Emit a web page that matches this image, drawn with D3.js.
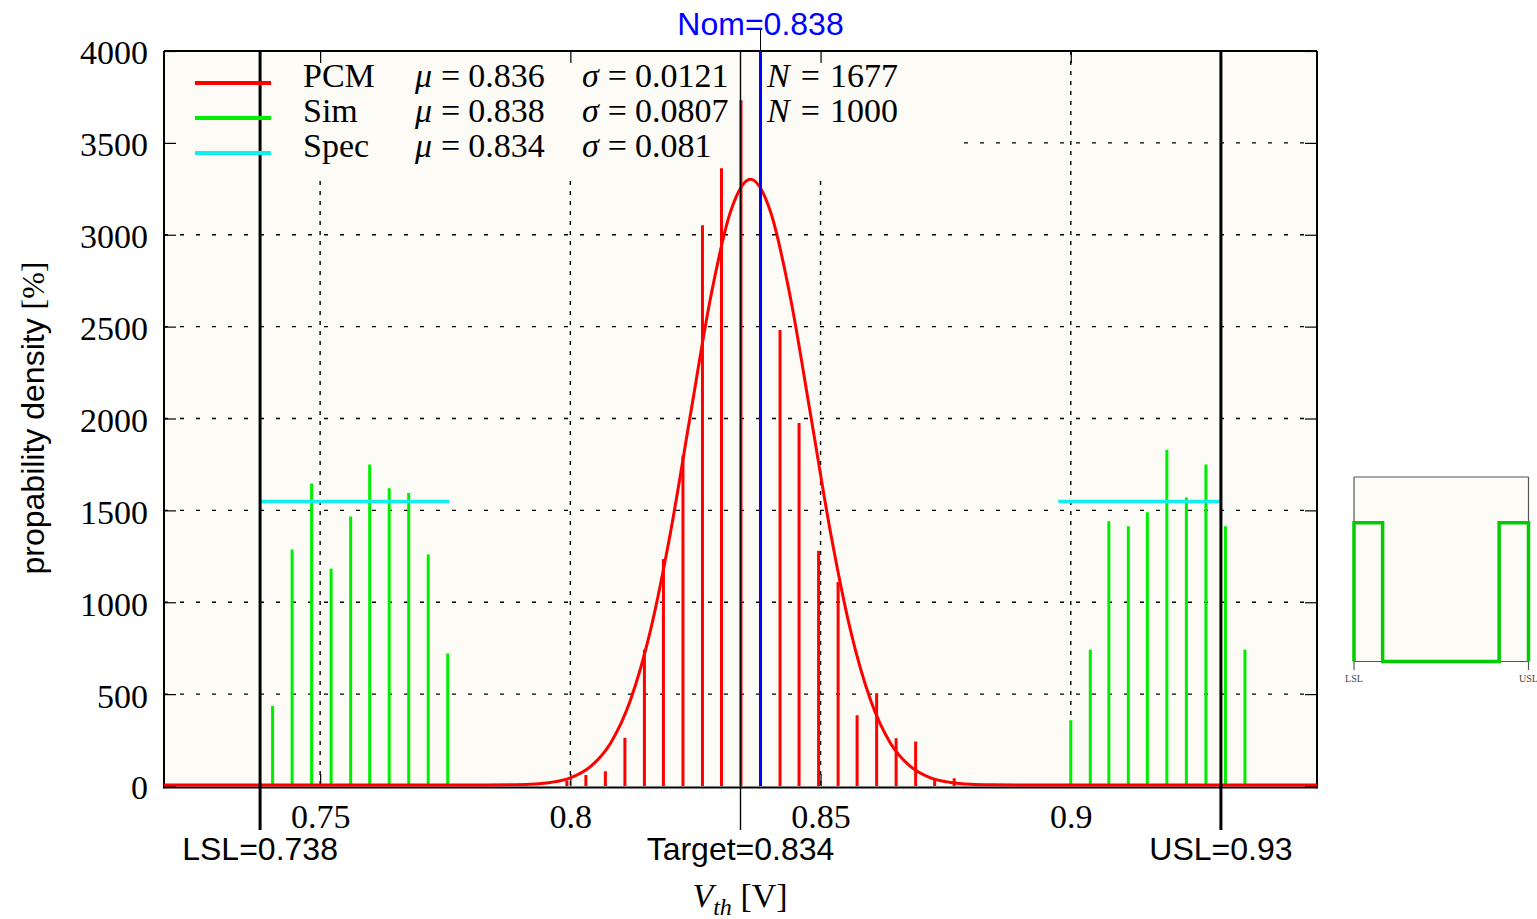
<!DOCTYPE html>
<html>
<head>
<meta charset="utf-8">
<script src="https://cdn.jsdelivr.net/npm/d3@7"></script>
<style>
  body { margin: 0; background: #fff; }
  svg { display: block; }
</style>
</head>
<body>
<div id="chart"></div>
<script>
// PCM histogram (red): bin centres [V] and density [%]
var pcmBins = [0.7876, 0.7993, 0.8031, 0.8070, 0.8109, 0.8148, 0.8186, 0.8225, 0.8264, 0.8302,
               0.8341, 0.8380, 0.8419, 0.8457, 0.8496, 0.8535, 0.8573, 0.8612, 0.8651, 0.8690,
               0.8728, 0.8767];
var pcmDensity = [8, 30, 60, 80, 262, 742, 1235, 1797, 3052, 3362,
                  3732, 3142, 2482, 1975, 1280, 1110, 385, 505, 260, 242,
                  42, 42];

// Sim histogram (green)
var simBins = [0.7405, 0.7444, 0.7483, 0.7522, 0.7561, 0.7599, 0.7638, 0.7677, 0.7716, 0.7755,
               0.9000, 0.9039, 0.9076, 0.9115, 0.9153, 0.9192, 0.9231, 0.9270, 0.9309, 0.9348];
var simDensity = [436, 1287, 1646, 1183, 1467, 1750, 1621, 1595, 1260, 721,
                  358, 742, 1441, 1414, 1490, 1828, 1570, 1750, 1414, 742];

// fitted PCM curve
var fitV = [0.7188, 0.760, 0.780, 0.788, 0.792, 0.796, 0.800, 0.804, 0.808, 0.812, 0.816,
            0.820, 0.824, 0.828, 0.832, 0.836, 0.840, 0.844, 0.848, 0.852, 0.856,
            0.860, 0.864, 0.868, 0.872, 0.876, 0.880, 0.884, 0.892, 0.910, 0.9492];
var fitDensity = [0, 0, 0, 1, 4, 14, 39, 100, 226, 461, 840,
                  1373, 2016, 2649, 3120, 3297, 3120, 2649, 2016, 1373, 840,
                  461, 226, 100, 39, 14, 4, 1, 0, 0, 0];

// Spec (cyan) levels
var specLevel = 1548;
var specSegments = [[0.738, 0.7758], [0.8975, 0.93]];

var limitValues = [0.738, 0.834, 0.93];
var limitLabels = ['LSL=0.738', 'Target=0.834', 'USL=0.93'];
var nomValue = 0.838;
var nomLabel = 'Nom=0.838';

var xTickValues = [0.75, 0.8, 0.85, 0.9];
var xTickLabels = ['0.75', '0.8', '0.85', '0.9'];
var yTickValues = [0, 500, 1000, 1500, 2000, 2500, 3000, 3500, 4000];
var yTickLabels = ['0', '500', '1000', '1500', '2000', '2500', '3000', '3500', '4000'];

var legendNames = ['PCM', 'Sim', 'Spec'];
var legendMu = ['0.836', '0.838', '0.834'];
var legendSigma = ['0.0121', '0.0807', '0.081'];
var legendN = ['1677', '1000', ''];
var legendColors = ['#ff0000', '#00ee00', '#11eeee'];

// small spec sketch on the right
var insetV = [0.738, 0.738, 0.7695, 0.7695, 0.8977, 0.8977, 0.93, 0.93];
var insetDensity = [0, 1548, 1548, 0, 0, 1548, 1548, 0];

var serif = "'Liberation Serif', 'DejaVu Serif', serif",
    sans = "'Liberation Sans', 'DejaVu Sans', sans-serif",
    cream = '#fcfbf5';

var W = 1537, H = 919;
var plot = {left: 164, top: 51, right: 1317, bottom: 786};

var svg = d3.select('#chart').append('svg')
      .attr('width', W)
      .attr('height', H)
      .style('background', '#fff');

var x = d3.scaleLinear().domain([0.7188, 0.9492]).range([plot.left, plot.right]);
var y = d3.scaleLinear().domain([0, 4000]).range([plot.bottom, plot.top]);

// plot background
svg.append('rect')
  .attr('x', plot.left).attr('y', plot.top)
  .attr('width', plot.right - plot.left).attr('height', plot.bottom - plot.top)
  .attr('fill', cream);

// grid
svg.append('g').selectAll('line')
  .data(yTickValues.filter(v => v > 0 && v < 4000))
  .enter().append('line')
  .attr('x1', plot.left).attr('x2', plot.right)
  .attr('y1', d => y(d)).attr('y2', d => y(d))
  .attr('stroke', '#000').attr('stroke-width', 1.3)
  .attr('stroke-dasharray', '4,12');

svg.append('g').selectAll('line')
  .data(xTickValues)
  .enter().append('line')
  .attr('x1', d => x(d)).attr('x2', d => x(d))
  .attr('y1', plot.top).attr('y2', plot.bottom)
  .attr('stroke', '#000').attr('stroke-width', 1.4)
  .attr('stroke-dasharray', '4,6');

// legend box hides the grid behind it
svg.append('rect')
  .attr('x', plot.left).attr('y', plot.top)
  .attr('width', 958 - plot.left).attr('height', 178 - plot.top)
  .attr('fill', cream);

// axes with inward ticks
var yAxis = d3.axisLeft(y).tickValues(yTickValues).tickSize(-12).tickPadding(16)
      .tickFormat((d, i) => yTickLabels[i]);
var gy = svg.append('g').attr('transform', `translate(${plot.left},0)`).call(yAxis);
gy.select('.domain').remove();
gy.selectAll('text').style('font-family', serif).style('font-size', '34px')
  .attr('dy', '0.38em');

var gyr = svg.append('g').attr('transform', `translate(${plot.right},0)`)
      .call(d3.axisRight(y).tickValues(yTickValues).tickSize(-12).tickFormat(''));
gyr.select('.domain').remove();

var xAxis = d3.axisBottom(x).tickValues(xTickValues).tickSize(-12).tickPadding(18)
      .tickFormat((d, i) => xTickLabels[i]);
var gx = svg.append('g').attr('transform', `translate(0,${plot.bottom})`).call(xAxis);
gx.select('.domain').remove();
gx.selectAll('text').style('font-family', serif).style('font-size', '34px');

var gxt = svg.append('g').attr('transform', `translate(0,${plot.top})`)
      .call(d3.axisTop(x).tickValues(xTickValues).tickSize(-12).tickFormat(''));
gxt.select('.domain').remove();
svg.selectAll('.tick line').attr('stroke-width', 1.2);

// frame
var frame = svg.append('g').attr('stroke', '#000').attr('stroke-width', 2);
frame.append('line').attr('x1', plot.left).attr('x2', plot.right).attr('y1', plot.top).attr('y2', plot.top);
frame.append('line').attr('x1', plot.left).attr('x2', plot.right).attr('y1', plot.bottom + 1.5).attr('y2', plot.bottom + 1.5);
frame.append('line').attr('x1', plot.left).attr('x2', plot.left).attr('y1', plot.top).attr('y2', plot.bottom + 2.5);
frame.append('line').attr('x1', plot.right).attr('x2', plot.right).attr('y1', plot.top).attr('y2', plot.bottom + 2.5);

// Sim bars
svg.append('g').selectAll('line')
  .data(simBins)
  .enter().append('line')
  .attr('x1', d => x(d)).attr('x2', d => x(d))
  .attr('y1', y(0)).attr('y2', (d, i) => y(simDensity[i]))
  .attr('stroke', legendColors[1]).attr('stroke-width', 3);

// PCM bars
svg.append('g').selectAll('line')
  .data(pcmBins)
  .enter().append('line')
  .attr('x1', d => x(d)).attr('x2', d => x(d))
  .attr('y1', y(0)).attr('y2', (d, i) => y(pcmDensity[i]))
  .attr('stroke', legendColors[0]).attr('stroke-width', 3);

// Spec levels
svg.append('g').selectAll('line')
  .data(specSegments)
  .enter().append('line')
  .attr('x1', d => x(d[0])).attr('x2', d => x(d[1]))
  .attr('y1', y(specLevel)).attr('y2', y(specLevel))
  .attr('stroke', legendColors[2]).attr('stroke-width', 3.5);

// fitted curve
var line = d3.line()
      .curve(d3.curveMonotoneX)
      .x(d => x(d))
      .y((d, i) => y(fitDensity[i]) - 1);

svg.append('path')
  .datum(fitV)
  .attr('fill', 'none')
  .attr('stroke', '#ff0000')
  .attr('stroke-width', 3)
  .attr('d', line);

// LSL / Target / USL
svg.append('g').selectAll('line')
  .data(limitValues)
  .enter().append('line')
  .attr('x1', d => x(d)).attr('x2', d => x(d))
  .attr('y1', plot.top).attr('y2', 830)
  .attr('stroke', '#000')
  .attr('stroke-width', (d, i) => i === 1 ? 1.4 : 3);

svg.append('g').selectAll('text')
  .data(limitLabels)
  .enter().append('text')
  .attr('x', (d, i) => x(limitValues[i]))
  .attr('y', 860)
  .attr('text-anchor', 'middle')
  .style('font-family', sans).style('font-size', '32px')
  .text(d => d);

// nominal
svg.append('line')
  .attr('x1', x(nomValue)).attr('x2', x(nomValue))
  .attr('y1', 30).attr('y2', plot.top)
  .attr('stroke', '#000').attr('stroke-width', 1);
svg.append('line')
  .attr('x1', x(nomValue)).attr('x2', x(nomValue))
  .attr('y1', plot.top).attr('y2', plot.bottom)
  .attr('stroke', '#0000ff').attr('stroke-width', 3);
svg.append('text')
  .attr('x', x(nomValue)).attr('y', 35)
  .attr('text-anchor', 'middle')
  .attr('fill', '#0000ff')
  .style('font-family', sans).style('font-size', '32px')
  .text(nomLabel);

// legend
var legend = svg.append('g').style('font-family', serif).style('font-size', '34px');
legendNames.forEach(function (name, i) {
  var base = 87 + i * 35;
  legend.append('line')
    .attr('x1', 195).attr('x2', 271)
    .attr('y1', base - 4).attr('y2', base - 4)
    .attr('stroke', legendColors[i]).attr('stroke-width', 4);
  legend.append('text').attr('x', 303).attr('y', base).text(name);

  var mu = legend.append('text').attr('x', 415).attr('y', base);
  mu.append('tspan').style('font-style', 'italic').text('\u03bc');
  mu.append('tspan').attr('dx', 9).text('=');
  mu.append('tspan').attr('dx', 8).text(legendMu[i]);

  var sg = legend.append('text').attr('x', 582).attr('y', base);
  sg.append('tspan').style('font-style', 'italic').text('\u03c3');
  sg.append('tspan').attr('dx', 9).text('=');
  sg.append('tspan').attr('dx', 8).text(legendSigma[i]);

  if (legendN[i]) {
    var n = legend.append('text').attr('x', 767).attr('y', base);
    n.append('tspan').style('font-style', 'italic').text('N');
    n.append('tspan').attr('dx', 11).text('=');
    n.append('tspan').attr('dx', 10).text(legendN[i]);
  }
});

// axis titles
var xt = svg.append('text')
      .attr('x', 740).attr('y', 907)
      .attr('text-anchor', 'middle')
      .style('font-family', serif).style('font-size', '34px');
xt.append('tspan').style('font-style', 'italic').text('V');
xt.append('tspan').style('font-style', 'italic').style('font-size', '24px').attr('dy', 8).text('th');
xt.append('tspan').attr('dy', -8).text(' [V]');

var yt = svg.append('text')
      .attr('transform', 'translate(44,418) rotate(-90)')
      .attr('text-anchor', 'middle')
      .style('font-family', sans).style('font-size', '32px');
yt.append('tspan').text('propability density ');
yt.append('tspan').style('font-family', serif).text('[%]');

// inset
var ix = d3.scaleLinear().domain([0.738, 0.93]).range([1354, 1528.5]);
var iy = d3.scaleLinear().domain([0, 2060]).range([661.5, 477]);

svg.append('rect')
  .attr('x', ix(0.738)).attr('y', iy(2060))
  .attr('width', ix(0.93) - ix(0.738)).attr('height', iy(0) - iy(2060))
  .attr('fill', cream);

var inset = svg.append('g').attr('stroke', '#555').attr('stroke-width', 1.2);
inset.append('line').attr('x1', ix(0.738)).attr('x2', ix(0.93)).attr('y1', iy(2060)).attr('y2', iy(2060));
inset.append('line').attr('x1', ix(0.738)).attr('x2', ix(0.93)).attr('y1', iy(0)).attr('y2', iy(0));
inset.append('line').attr('x1', ix(0.738)).attr('x2', ix(0.738)).attr('y1', iy(2060)).attr('y2', 670);
inset.append('line').attr('x1', ix(0.93)).attr('x2', ix(0.93)).attr('y1', iy(2060)).attr('y2', 670);

svg.append('path')
  .datum(insetV)
  .attr('fill', 'none')
  .attr('stroke', '#00cc00')
  .attr('stroke-width', 3.5)
  .attr('d', d3.line().x(d => ix(d)).y((d, i) => iy(insetDensity[i])));

svg.append('g').selectAll('text')
  .data(['LSL', 'USL'])
  .enter().append('text')
  .attr('x', (d, i) => ix(i === 0 ? 0.738 : 0.93))
  .attr('y', 682)
  .attr('text-anchor', 'middle')
  .attr('fill', '#444')
  .style('font-family', serif).style('font-size', '10px')
  .text(d => d);
</script>
</body>
</html>
